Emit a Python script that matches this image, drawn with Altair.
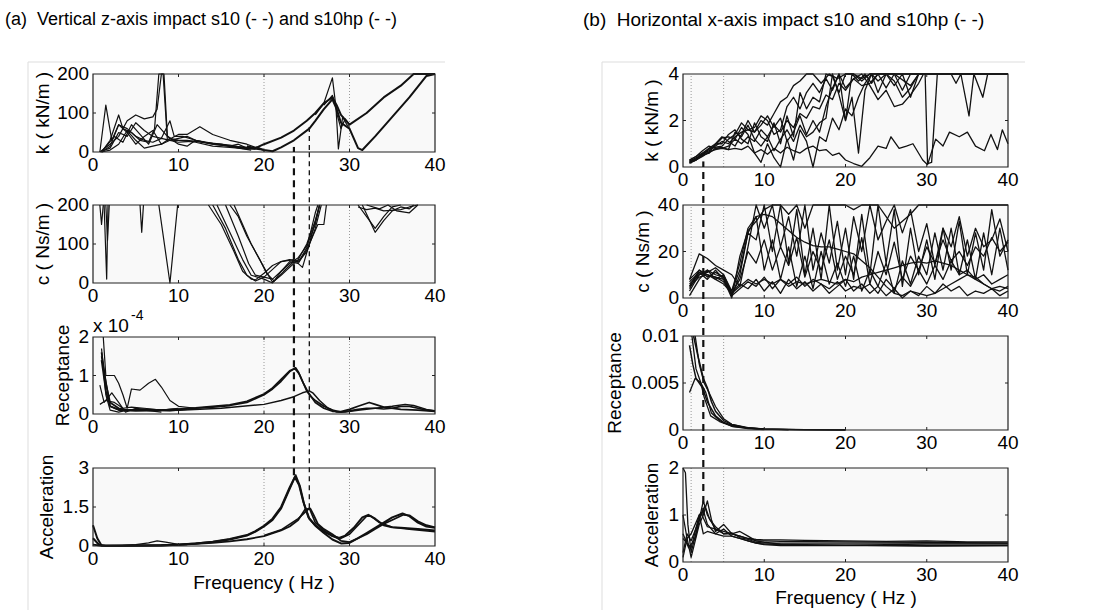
import altair as alt
import pandas as pd

W, H = 1098, 610
FONT = "Liberation Sans"
BG = "#f9f9f9"
INK = "#111111"

FREQ_DOMAIN = [0, 40]
X_TICKS = [0, 10, 20, 30, 40]

# ---------------- (a) vertical z-axis ----------------
# stiffness k (kN/m)
A_K_1 = [(0.8,0),(1.5,120),(2.2,30),(3,70),(4,60),(5,40),(6,30),(7,25),(8,35),(9,30),(10,25),(12,28),(14,20),(16,15),(18,12),(19.5,10)]
A_K_2 = [(0.8,0),(2,20),(3,40),(4,80),(5,95),(6,85),(7,90),(7.5,110),(8,200),(8.3,200),(8.7,40),(9.5,30),(11,30),(13,25),(15,18),(17,12),(19,8)]
A_K_3 = [(1,0),(2,30),(3,95),(3.5,60),(4.5,50),(5.5,30),(6.5,25),(7.2,60),(7.7,200),(8.2,200),(8.7,30),(10,45),(11,45),(12.5,65),(14,45),(16,30),(18,20),(19,12)]
A_K_4 = [(1,0),(2.5,40),(3.5,25),(4.5,70),(5.5,45),(6.5,20),(7.5,70),(8.5,45),(9.3,30),(10,20),(11,15),(12,30),(13,25),(15,20),(17,10),(18.5,5)]
A_K_5 = [(1,2),(2,10),(3,50),(4,40),(5,75),(6,55),(7,40),(8,35),(9,80),(9.5,40),(10.5,40),(12,30),(14,22),(16,18),(18,10),(19,10)]
A_K_6 = [(1,0),(2,5),(3,20),(4,55),(5,30),(6,10),(7,15),(8,20),(9,30),(10,35),(11,40),(12,30),(14,20),(16,15),(17,20),(18,10),(20,5)]
A_K_7 = [(1,0),(2,15),(3,70),(4,50),(5,20),(6,40),(7,55),(8,20),(9,35),(10,30),(12,25),(14,15),(16,12),(18,8),(19,8)]
A_K_S10 = [(18,15),(19,10),(20,20),(22,37),(23.5,55),(25,80),(26,100),(27,125),(28,140),(28.5,120),(29,95),(30,70),(32,100),(34,140),(36,170),(37.5,200),(40,200)]
A_K_S10HP = [(19,12),(20,5),(21,2),(22,12),(23.5,30),(25.3,60),(26,80),(27,110),(28,135),(28.5,110),(29,75),(30,60),(31,10),(31.5,5),(33,40),(35,90),(37,140),(39,195),(40,200)]
A_K_SPIKE = [(26,95),(27,125),(28,190),(28.5,100),(29,60),(29.5,85),(30,70)]
A_K_DIP = [(27,120),(28,145),(28.4,120),(28.7,8),(29.2,90),(29.7,70),(30,65)]

# damping c (Ns/m)
A_C_SP1 = [(0.8,200),(1.0,150),(1.2,200)]
A_C_SP2 = [(1.3,200),(1.6,10),(1.75,200)]
A_C_SP3 = [(1.5,200),(1.7,110),(1.9,200)]
A_C_SP4 = [(5.5,200),(5.7,130),(5.9,200)]
A_C_V = [(7.7,200),(9,0),(9.9,200)]
A_C_U1 = [(13.5,200),(15,150),(16.5,80),(17.5,30),(18.5,10),(19,8),(20,25),(21,45),(22,55),(23,60),(24,55),(25,80),(26,140),(26.7,200)]
A_C_U2 = [(14,200),(15.5,140),(17,60),(18,20),(19,5),(20,15),(21,35),(22,55),(23.5,60),(24.5,40),(25.3,100),(26.5,200)]
A_C_U3 = [(14.5,200),(16,130),(17.5,60),(18.5,20),(20,10),(21,0),(22,30),(23,50),(24,65),(25,95),(26,150),(26.5,200)]
A_C_U4 = [(16,200),(17,170),(18,120),(19,80),(20,40),(20.5,20),(21,2),(22,20),(23,40),(24,60),(25,100),(26,160),(26.5,200)]
A_C_U5 = [(16.5,200),(17.5,150),(18.5,100),(19.5,60),(20.3,25),(21.2,5),(22.3,30),(23.5,55),(24.2,60),(25,90),(26,180),(26.3,200)]
A_C_U6 = [(15.5,200),(17,120),(18.2,50),(19,20),(20,15),(21,10),(22,30),(23,55),(24,50),(25,85),(26.3,150),(27,150),(27.3,200)]
A_C_T1 = [(31,200),(32,170),(33,140),(34,170),(35,195),(36,200)]
A_C_T2 = [(31.5,200),(33,130),(34,160),(35,185),(36,195),(37,190),(37.5,200)]
A_C_T3 = [(32,200),(33.5,190),(34.5,200),(35.5,185),(37,180),(38,200)]
A_C_T4 = [(31,195),(32,188),(33,192),(34,185),(36,188),(37,195),(38,200)]

# receptance (x 1e-4)
A_R_1 = [(1,1.6),(1.5,0.8),(2,0.3),(3,0.15),(4,0.1),(6,0.1),(8,0.1),(10,0.12),(12,0.15),(14,0.18),(16,0.22),(18,0.3),(20,0.5),(21,0.65),(22,0.85),(23,1.1),(23.7,1.2),(24,1.1),(24.5,0.85),(25,0.6),(25.5,0.45),(26,0.35),(27,0.2),(28,0.1),(29,0.05),(30,0.08),(31,0.12),(32,0.15),(33,0.15),(34,0.13),(35,0.15),(36,0.2),(37,0.2),(38,0.15),(39,0.1),(40,0.08)]
A_R_2 = [(1,1.4),(1.5,0.6),(2,0.2),(3,0.12),(4,0.1),(6,0.12),(8,0.1),(10,0.13),(12,0.16),(14,0.2),(16,0.24),(18,0.33),(20,0.52),(21,0.68),(22,0.9),(23,1.12),(23.6,1.18),(24.1,1.05),(24.6,0.8),(25.2,0.55),(26,0.3),(27,0.15),(28,0.07),(29,0.06),(30,0.12),(31,0.2),(32.3,0.3),(33,0.25),(34,0.18),(36,0.12),(38,0.1),(40,0.07)]
A_R_HP = [(1,1.5),(2,0.2),(3,0.1),(5,0.08),(10,0.1),(15,0.15),(20,0.25),(22,0.35),(23.5,0.45),(24.5,0.55),(25.3,0.6),(25.7,0.55),(26.5,0.35),(27.5,0.15),(28.5,0.05),(29.5,0.05),(31,0.1),(33,0.15),(35,0.2),(36.5,0.25),(37.5,0.22),(39,0.12),(40,0.08)]
A_R_4 = [(1.2,2),(1.5,1.0),(2.5,1.0),(3,0.8),(3.5,0.5),(4,0.15),(4.5,0.65),(5.5,0.62),(6.5,0.8),(7.3,0.9),(8,0.7),(9,0.35),(10,0.2),(12,0.15)]
A_R_5 = [(0.8,0.75),(1.3,0.3),(2.2,0.55),(3,0.3),(3.8,0.05),(5,0.15),(7,0.1),(9,0.08),(11,0.12)]
A_R_6 = [(0.8,0.25),(1.5,0.35),(2.5,0.3),(3.5,0.15),(4.5,0.18),(6,0.15),(8,0.1),(10,0.15)]
A_R_7 = [(1,1.7),(1.5,0.5),(2,0.1),(3,0.05),(4,0.1),(6,0.1),(8,0.05)]

# acceleration
A_A_S10_1 = [(0,0.8),(0.5,0.3),(1,0.02),(3,0.01),(5,0.02),(8,0.03),(10,0.05),(12,0.1),(14,0.15),(16,0.25),(18,0.4),(19,0.55),(20,0.75),(21,1.0),(22,1.45),(23,2.2),(23.7,2.72),(24.2,2.3),(24.7,1.6),(25.3,1.05),(26,0.8),(27,0.55),(28,0.38),(28.7,0.3),(29.5,0.4),(30.5,0.7),(31.5,1.1),(32.2,1.2),(33,1.05),(34,0.8),(35,0.72),(36,0.7),(38,0.65),(40,0.6)]
A_A_S10_2 = [(0,0.3),(0.7,0.05),(1.5,0.01),(4,0.02),(8,0.03),(10,0.06),(12,0.1),(14,0.16),(16,0.27),(18,0.42),(19,0.57),(20,0.78),(21,1.05),(22,1.5),(23,2.25),(23.6,2.65),(24.1,2.35),(24.6,1.7),(25.2,1.1),(26,0.78),(27,0.5),(28,0.25),(29,0.1),(30,0.12),(31,0.3),(32,0.5),(33,0.7),(34,0.9),(35,1.1),(36.2,1.25),(37,1.15),(38,0.9),(39,0.75),(40,0.7)]
A_A_HP_1 = [(0,0.05),(1,0.01),(4,0.01),(8,0.02),(10,0.04),(12,0.08),(14,0.12),(16,0.18),(18,0.26),(20,0.38),(22,0.6),(23,0.75),(24,1.0),(24.8,1.4),(25.4,1.45),(25.8,1.2),(26.3,0.85),(27,0.65),(28,0.45),(29,0.2),(30,0.15),(31,0.3),(32,0.45),(33,0.65),(34,0.85),(35,1.0),(36.3,1.2),(37,1.18),(38,0.95),(39,0.8),(40,0.72)]
A_A_HP_2 = [(20,0.4),(22,0.62),(24,1.05),(25.3,1.45),(26,0.9),(27,0.6),(28,0.4),(29,0.3),(30,0.45),(31,0.8),(32,1.15),(32.5,1.15),(33.5,0.9),(35,0.72),(37,0.65),(40,0.55)]
A_A_LOW = [(3,0.01),(5,0.05),(6.5,0.12),(7.5,0.2),(8.5,0.15),(10,0.06),(11,0.05)]

# ---------------- (b) horizontal x-axis ----------------
B_K_1 = [(0.8,0.25),(1.6,0.4),(2.4,0.55),(3.2,0.7),(4,0.9),(4.8,1.1),(5.6,1.0),(6.4,1.3),(7.2,1.5),(8,1.6),(8.8,1.5),(9.6,2.0),(10.4,1.8),(11.2,2.3),(12,2.8),(12.8,3.0),(13.6,3.5),(14.4,3.7),(15.2,4.0),(16,4.0),(17,3.6),(18,4.0),(19,3.8),(20,4.0),(21,4.0),(22,3.8),(23,4.0),(40,4.0)]
B_K_2 = [(0.8,0.2),(1.6,0.35),(2.4,0.5),(3.2,0.8),(4,0.85),(4.8,0.9),(5.6,1.2),(6.4,1.4),(7.2,1.9),(8,1.6),(8.8,1.7),(9.6,2.2),(10.4,2.0),(11.2,1.4),(12,1.6),(12.8,2.6),(13.6,3.0),(14.4,2.5),(15.2,3.2),(16,3.6),(16.8,3.2),(17.6,3.8),(18.4,3.3),(19.2,4.0),(20,3.4),(21,3.8),(22,4.0),(23,3.5),(24,2.9),(25,3.3),(26,2.6),(27,2.7),(28,3.1),(29,3.6),(29.6,4.0),(40,4.0)]
B_K_3 = [(0.8,0.3),(1.6,0.45),(2.4,0.7),(3.2,0.9),(4,0.8),(4.8,0.85),(5.6,0.75),(6.4,1.5),(7.2,1.3),(8,1.8),(8.8,1.2),(9.6,0.9),(10.4,1.3),(11.2,0.7),(12,1.2),(12.8,1.6),(13.6,1.1),(14.4,1.8),(15.2,1.3),(16,1.5),(16.8,1.9),(17.6,2.1),(18.4,4.0),(19.2,3.1),(20,2.0),(20.8,4.0),(21.6,3.7),(22.4,4.0),(23.2,3.6),(24,4.0),(25,4.0),(26,3.5),(27,4.0),(28,3.0),(29,4.0),(40,4.0)]
B_K_4 = [(0.8,0.15),(1.6,0.3),(2.4,0.45),(3.2,0.65),(4,0.75),(4.8,0.8),(5.6,0.75),(6.4,0.8),(7.2,0.75),(8,0.9),(8.8,0.6),(9.6,0.75),(10.4,0.55),(11.2,0.8),(12,0.6),(12.8,0.85),(13.6,0.7),(14.4,0.6),(15.2,0.8),(16,0.9),(16.8,0.7),(17.6,0.75),(18.4,0.5),(19.2,0.6),(20,0.3),(21,0.15),(22,0.03),(23,0.4),(24,0.9),(25,0.8),(25.6,1.3),(26.6,0.8),(27.5,0.9),(28.3,1.0),(29.5,0.3),(30.1,0.1),(31.1,1.2),(32,0.9),(32.8,1.5),(34,1.3),(35,1.5),(36,0.9),(37.1,0.7),(37.9,1.4),(38.7,0.75),(39.3,1.6),(40,1.0)]
B_K_5 = [(0.8,0.2),(1.6,0.3),(2.4,0.55),(3.2,0.75),(4,0.95),(4.8,1.25),(5.6,1.3),(6.4,1.2),(7.2,1.7),(8,1.4),(8.8,0.6),(9.6,0.2),(10.4,1.0),(11.2,0.4),(12,0.0),(12.8,1.2),(13.6,0.3),(14.4,1.6),(15.2,1.1),(16,0.0),(16.8,1.3),(17.6,1.1),(18.4,2.1),(19.2,1.6),(20,2.5),(20.8,2.2),(21.6,3.0),(22.4,3.6),(23.2,4.0),(24,3.7),(25,4.0),(40,4.0)]
B_K_6 = [(0.8,0.25),(1.6,0.35),(2.4,0.6),(3.2,0.6),(4,1.0),(4.8,1.3),(5.6,1.1),(6.4,0.9),(7.2,1.4),(8,2.0),(8.8,1.5),(9.6,1.8),(10.4,2.2),(11.2,1.7),(12,2.1),(12.8,1.1),(13.6,1.5),(14.4,2.2),(15.2,1.4),(16,2.0),(16.8,1.5),(17.6,2.6),(18.4,3.4),(19.2,4.0),(20,2.0),(20.8,3.0),(21.6,0.6),(22.4,3.3),(23.2,4.0),(24,3.2),(25,4.0),(26,4.0),(27,3.3),(28,4.0),(40,4.0)]
B_K_7 = [(0.8,0.3),(1.6,0.45),(2.4,0.6),(3.2,0.8),(4,1.0),(4.8,1.0),(5.6,1.4),(6.4,1.6),(7.2,1.2),(8,1.0),(8.8,1.9),(9.6,1.3),(10.4,1.1),(11.2,1.9),(12,1.0),(12.8,2.2),(13.6,1.3),(14.4,3.2),(15.2,2.5),(16,3.0),(16.8,2.8),(17.6,4.0),(18.4,3.9),(19.2,3.2),(20,4.0),(21,4.0),(22,3.7),(23,4.0),(24,4.0),(25,3.4),(26,4.0),(28,3.5),(29,4.0),(33,4.0),(33.6,3.6),(34.2,4.0),(35.2,2.2),(35.8,4.0),(36.9,3.0),(37.5,4.0),(40,4.0)]
B_K_8 = [(0.8,0.2),(1.6,0.3),(2.4,0.5),(3.2,0.6),(4,0.8),(4.8,0.8),(5.6,0.9),(6.4,1.2),(7.2,1.0),(8,1.3),(8.8,1.1),(9.6,1.6),(10.4,1.3),(11.2,1.8),(12,1.5),(12.8,2.0),(13.6,1.7),(14.4,2.3),(15.2,2.1),(16,2.6),(16.8,2.5),(17.6,3.1),(18.4,2.9),(19.2,3.6),(20,3.3),(21,3.8),(22,3.5),(23,3.6),(24,4.0),(25,4.0),(26,3.7),(27,3.0),(28,3.4),(29,4.0),(29.8,4.0),(30.1,0.15),(30.6,0.2),(31.3,4.0),(40,4.0)]

B_C_1 = [(0.8,5),(2,9),(3,10),(4,9),(5,8),(6,3),(7,15),(8,30),(9,35),(10,36),(11,35),(12,32),(13,29),(14,26),(15,24),(16,22.5),(17,22),(18,22),(19,21),(20,20),(21,19),(22,16),(23,13),(24,9),(25,5),(26,2),(27,1),(28,3),(29,2),(30,1),(31,2),(32,4),(33,6),(34,8),(35,10),(36,9),(37,6),(38,4),(39,3),(40,5)]
B_C_2 = [(0.8,8),(2,12),(3,10),(4,8),(5,6),(6,2),(7,5),(8,8),(9,6),(10,8),(11,6),(12,8),(13,5),(14,7),(15,6),(16,7),(17,8),(18,7),(19,6),(20,8),(21,7),(22,9),(23,10),(24,11),(25,12),(26,13),(27,14),(28,15),(29,15.5),(30,15),(31,16),(32,15),(33,14),(34,12),(35,10),(36,8),(37,6),(38,4),(39,5),(40,4)]
B_C_3 = [(0.8,5),(2,12),(3,9),(4,11),(5,9),(6,1),(7,10),(8,28),(9,25),(10,40),(11,20),(12,40),(13,15),(14,38),(15,10),(16,30),(17,8),(18,40),(19,12),(20,30),(21,8),(22,36),(23,10),(24,40),(25,15),(26,38),(27,5),(28,30),(29,10),(30,25),(31,8),(32,30),(33,12),(34,33),(35,10),(36,28),(37,12),(38,38),(39,18),(40,25)]
B_C_4 = [(0.8,8),(2,19),(3,17),(4,14),(5,12),(6,10),(7,5),(8,22),(9,40),(10,30),(11,40),(12,22),(13,35),(14,18),(15,40),(16,12),(17,28),(18,15),(19,33),(20,10),(21,35),(22,20),(23,40),(24,25),(25,33),(26,40),(27,28),(28,38),(29,20),(30,32),(31,14),(32,30),(33,22),(34,35),(35,18),(36,30),(37,22),(38,25),(39,34),(40,20)]
B_C_5 = [(0.8,3),(2,10),(3,11),(4,13),(5,10),(6,3),(7,12),(8,28),(9,35),(10,12),(11,25),(12,8),(13,22),(14,5),(15,18),(16,4),(17,20),(18,6),(19,15),(20,5),(21,18),(22,3),(23,12),(24,5),(25,15),(26,2),(27,16),(28,6),(29,18),(30,10),(31,28),(32,12),(33,30),(34,10),(35,25),(36,8),(37,28),(38,10),(39,30),(40,12)]
B_C_6 = [(0.8,1),(2,8),(3,12),(4,8),(5,10),(6,2),(7,6),(8,4),(9,8),(10,3),(11,7),(12,2),(13,8),(14,4),(15,7),(16,3),(17,6),(18,2),(19,5),(20,8),(21,3),(22,6),(23,2),(24,5),(25,1),(26,4),(27,0),(28,3),(29,1),(30,5),(31,2),(32,6),(33,3),(34,5),(35,1),(36,3),(37,2),(38,4),(39,1),(40,3)]
B_C_7 = [(0.8,6),(2,10),(3,12),(4,10),(5,9),(6,1),(7,4),(8,7),(9,5),(10,9),(11,4),(12,8),(13,6),(14,9),(15,5),(16,8),(17,6),(18,4),(19,7),(20,3),(21,5),(22,4),(23,6),(24,2),(25,8),(26,4),(27,9),(28,5),(29,12),(30,6),(31,14),(32,8),(33,16),(34,10),(35,12),(36,8),(37,10),(38,6),(39,8),(40,10)]
B_C_8 = [(0.8,4),(2,11),(3,8),(4,12),(5,8),(6,0),(7,18),(8,29),(9,33),(10,38),(11,40),(12,40),(13,36),(14,40),(15,30),(16,40),(20,40),(21,38),(22,40),(24,40),(25,35),(26,30),(27,33),(28,36),(29,40),(40,40)]
B_C_9 = [(0.8,7),(2,11),(3,10),(4,9),(5,7),(6,2),(7,8),(8,20),(9,15),(10,25),(11,12),(12,22),(13,14),(14,26),(15,9),(16,20),(17,12),(18,25),(19,8),(20,18),(21,10),(22,26),(23,6),(24,20),(25,10),(26,24),(27,8),(28,18),(29,12),(30,22),(31,15),(32,25),(33,16),(34,20),(35,14),(36,22),(37,18),(38,26),(39,20),(40,24)]

B_R_1 = [(0.8,0.009),(1.2,0.007),(1.6,0.0055),(2.4,0.0045),(3,0.003),(4,0.0015),(5,0.0008),(6,0.0005),(8,0.0002),(10,0.0001),(15,0.00002),(20,0)]
B_R_2 = [(0.8,0.004),(1.5,0.0055),(2.2,0.005),(2.8,0.004),(3.5,0.0018),(4.5,0.001),(6,0.0004),(8,0.0002),(10,0.0001),(14,0.00003),(20,0)]
B_R_3 = [(1.3,0.01),(1.8,0.008),(2.5,0.0055),(3,0.0045),(3.5,0.003),(4,0.002),(5,0.001),(6,0.0006),(8,0.0002),(10,0.0001),(13,0.00003)]
B_R_4 = [(1.5,0.01),(2,0.007),(2.6,0.005),(3.2,0.004),(4,0.0025),(5,0.0012),(6,0.0006),(8,0.00025),(10,0.0001)]
B_R_5 = [(1.1,0.01),(1.6,0.0065),(2.2,0.005),(2.6,0.0035),(3.4,0.0015),(4.5,0.0009),(6,0.0004),(8,0.00015),(10,0.00005)]

B_A_1 = [(0,2),(0.3,1.9),(0.6,0.8),(1,0.2),(2,0.9),(2.5,1.3),(3,1.0),(4,0.7),(5,0.65),(6,0.6),(7,0.55),(8,0.5),(9,0.48),(10,0.47),(12,0.47),(15,0.46),(20,0.45),(25,0.44),(30,0.45),(35,0.43),(40,0.43)]
B_A_2 = [(0,1.0),(0.5,0.5),(1,0.1),(2,0.8),(2.5,1.0),(3,1.3),(3.5,0.9),(4,0.65),(5,0.8),(6,0.6),(7,0.65),(8,0.55),(9,0.45),(10,0.42),(12,0.38),(15,0.37),(20,0.36),(25,0.37),(30,0.38),(40,0.38)]
B_A_3 = [(0,0.1),(0.5,0.5),(1,0.6),(2,1.0),(2.5,0.6),(3,0.65),(4,0.6),(5,0.55),(6,0.55),(7,0.5),(8,0.45),(9,0.4),(10,0.37),(12,0.35),(20,0.35),(30,0.35),(40,0.35)]
B_A_4 = [(0,0.5),(1,0.3),(2,1.0),(2.5,1.1),(3,0.8),(4,0.6),(5,0.7),(6,0.55),(7,0.5),(8,0.45),(9,0.4),(10,0.38),(15,0.36),(20,0.36),(30,0.34),(40,0.35)]
B_A_5 = [(0,0.2),(0.5,0.6),(1,0.45),(2,0.9),(2.7,1.2),(3.3,0.9),(4,0.75),(5,0.6),(6,0.6),(7,0.55),(8,0.5),(9,0.45),(10,0.45),(12,0.44),(20,0.43),(30,0.42),(40,0.4)]
B_A_6 = [(0,0.6),(0.7,0.3),(1.5,0.5),(2.2,1.05),(3,0.75),(4,0.7),(5,0.6),(6,0.62),(7,0.52),(8,0.48),(9,0.42),(10,0.4),(15,0.4),(25,0.4),(40,0.4)]

# ---------------- layout ----------------
LEFT_X = (93, 435)
RIGHT_X = (683, 1008)
LEFT_Y = [(74, 152), (205, 283), (337, 414), (468, 546)]
RIGHT_Y = [(74, 167), (205, 298), (336, 430), (468, 562)]
THIN, THICK = 1.2, 2.0
TICK_PX = 3
LABEL_SIZE = 19
TITLE_SIZE = 19


def make_df(series):
    rows = []
    for i, (pts, w) in enumerate(series):
        for f, v in pts:
            rows.append({"s": i, "f": f, "v": v, "w": w})
    return pd.DataFrame(rows)


def fmt(v):
    return "%g" % v


def panel(xr, yr, ydom, yticks, series, grid_x):
    x0, x1 = xr
    y0, y1 = yr
    xs = alt.Scale(domain=FREQ_DOMAIN, range=[x0, x1], nice=False, zero=False)
    ys = alt.Scale(domain=ydom, range=[y1, y0], nice=False, zero=False, clamp=True)
    ymin, ymax = ydom
    one = pd.DataFrame({"a": [0]})
    bg = alt.Chart(one).mark_rect(fill=BG).encode(
        x=alt.XDatum(FREQ_DOMAIN[0], type="quantitative", scale=xs, axis=None),
        x2=alt.X2Datum(FREQ_DOMAIN[1]),
        y=alt.YDatum(ymin, type="quantitative", scale=ys, axis=None),
        y2=alt.Y2Datum(ymax),
    )
    grid = alt.Chart(pd.DataFrame({"g": grid_x})).mark_rule(
        color="#9a9a9a", strokeWidth=1, strokeDash=[1, 2]).encode(
        x=alt.X("g:Q", scale=xs, axis=None),
        y=alt.YDatum(ymin, type="quantitative", scale=ys, axis=None),
        y2=alt.Y2Datum(ymax),
    )
    lines = alt.Chart(make_df(series)).mark_line(color=INK, strokeJoin="round").encode(
        x=alt.X("f:Q", scale=xs, axis=None),
        y=alt.Y("v:Q", scale=ys, axis=None),
        detail="s:N",
        strokeWidth=alt.StrokeWidth("w:Q", scale=None),
        order=alt.Order("f:Q"),
    )
    # inward MATLAB-style ticks
    tx = TICK_PX / (x1 - x0) * (FREQ_DOMAIN[1] - FREQ_DOMAIN[0])
    ty = TICK_PX / (y1 - y0) * (ymax - ymin)
    trows = []
    for t in X_TICKS[1:-1]:
        trows.append({"x": t, "x2": t, "y": ymin, "y2": ymin + ty})
        trows.append({"x": t, "x2": t, "y": ymax, "y2": ymax - ty})
    for t in yticks[1:-1]:
        trows.append({"x": FREQ_DOMAIN[0], "x2": FREQ_DOMAIN[0] + tx, "y": t, "y2": t})
        trows.append({"x": FREQ_DOMAIN[1], "x2": FREQ_DOMAIN[1] - tx, "y": t, "y2": t})
    ticks = alt.Chart(pd.DataFrame(trows)).mark_rule(color="#222", strokeWidth=1).encode(
        x=alt.X("x:Q", scale=xs, axis=None), x2="x2:Q",
        y=alt.Y("y:Q", scale=ys, axis=None), y2="y2:Q",
    )
    frame = alt.Chart(one).mark_rect(
        fillOpacity=0, stroke="#222", strokeWidth=1.2).encode(
        x=alt.XDatum(FREQ_DOMAIN[0], type="quantitative", scale=xs, axis=None),
        x2=alt.X2Datum(FREQ_DOMAIN[1]),
        y=alt.YDatum(ymin, type="quantitative", scale=ys, axis=None),
        y2=alt.Y2Datum(ymax),
    )
    xlab = alt.Chart(pd.DataFrame({"t": X_TICKS, "lab": [fmt(t) for t in X_TICKS]})).mark_text(
        font=FONT, fontSize=LABEL_SIZE, color="#000", align="center", baseline="middle", dy=13).encode(
        x=alt.X("t:Q", scale=xs, axis=None),
        y=alt.YDatum(ymin, type="quantitative", scale=ys, axis=None),
        text="lab:N",
    )
    ylab = alt.Chart(pd.DataFrame({"t": yticks, "lab": [fmt(t) for t in yticks]})).mark_text(
        font=FONT, fontSize=LABEL_SIZE, color="#000", align="right", baseline="middle", dx=-4).encode(
        x=alt.XDatum(FREQ_DOMAIN[0], type="quantitative", scale=xs, axis=None),
        y=alt.Y("t:Q", scale=ys, axis=None),
        text="lab:N",
    )
    return alt.layer(bg, grid, lines, ticks, frame, xlab, ylab), xs, ys


def marker(xs, ys, f, v, y_end_px, width, dash):
    df = pd.DataFrame({"f": [f], "v": [v]})
    return alt.Chart(df).mark_rule(color=INK, strokeWidth=width, strokeDash=dash).encode(
        x=alt.X("f:Q", scale=xs, axis=None),
        y=alt.Y("v:Q", scale=ys, axis=None),
        y2=alt.value(y_end_px),
    )


A_GRID = [20, 30]
B_GRID = [1, 5]

pa_k, xs_ak, ys_ak = panel(LEFT_X, LEFT_Y[0], [0, 200], [0, 100, 200],
    [(A_K_1, THIN), (A_K_2, THIN), (A_K_3, THIN), (A_K_4, THIN), (A_K_5, THIN),
     (A_K_6, THIN), (A_K_7, THIN), (A_K_S10, THICK), (A_K_S10HP, THICK),
     (A_K_SPIKE, THIN), (A_K_DIP, THIN)], A_GRID)
pa_c, _, _ = panel(LEFT_X, LEFT_Y[1], [0, 200], [0, 100, 200],
    [(A_C_SP1, THIN), (A_C_SP2, THIN), (A_C_SP3, THIN), (A_C_SP4, THIN), (A_C_V, THIN),
     (A_C_U1, THIN), (A_C_U2, THIN), (A_C_U3, THIN), (A_C_U4, THIN), (A_C_U5, THIN),
     (A_C_U6, THIN), (A_C_T1, THIN), (A_C_T2, THIN), (A_C_T3, THIN), (A_C_T4, THIN)], A_GRID)
pa_r, _, _ = panel(LEFT_X, LEFT_Y[2], [0, 2], [0, 1, 2],
    [(A_R_1, 1.7), (A_R_2, 1.7), (A_R_HP, 1.5), (A_R_4, THIN), (A_R_5, THIN),
     (A_R_6, THIN), (A_R_7, THIN)], A_GRID)
pa_a, xs_aa, ys_aa = panel(LEFT_X, LEFT_Y[3], [0, 3], [0, 1.5, 3],
    [(A_A_S10_1, THICK), (A_A_S10_2, THICK), (A_A_HP_1, 1.8), (A_A_HP_2, 1.6), (A_A_LOW, THIN)], A_GRID)

pb_k, xs_bk, ys_bk = panel(RIGHT_X, RIGHT_Y[0], [0, 4], [0, 2, 4],
    [(B_K_1, 1.3), (B_K_2, 1.3), (B_K_3, 1.3), (B_K_4, 1.3), (B_K_5, 1.3),
     (B_K_6, 1.3), (B_K_7, 1.3), (B_K_8, 1.3)], B_GRID)
pb_c, _, _ = panel(RIGHT_X, RIGHT_Y[1], [0, 40], [0, 20, 40],
    [(B_C_1, 1.3), (B_C_2, 1.3), (B_C_3, 1.3), (B_C_4, 1.3), (B_C_5, 1.3),
     (B_C_6, 1.3), (B_C_7, 1.3), (B_C_8, 1.3), (B_C_9, 1.3)], B_GRID)
pb_r, _, _ = panel(RIGHT_X, RIGHT_Y[2], [0, 0.01], [0, 0.005, 0.01],
    [(B_R_1, 1.5), (B_R_2, 1.3), (B_R_3, 1.5), (B_R_4, 1.3), (B_R_5, 1.3)], B_GRID)
pb_a, xs_ba, ys_ba = panel(RIGHT_X, RIGHT_Y[3], [0, 2], [0, 1, 2],
    [(B_A_1, 1.3), (B_A_2, 1.3), (B_A_3, 1.3), (B_A_4, 1.3), (B_A_5, 1.3), (B_A_6, 1.3)], B_GRID)

# dashed resonance markers (start at a data point, run to the bottom edge of the k panel)
markers = [
    marker(xs_ak, ys_ak, 23.5, 13, LEFT_Y[0][1], 2.2, [7, 5]),
    marker(xs_aa, ys_aa, 23.5, 2.72, LEFT_Y[0][1], 2.2, [7, 5]),
    marker(xs_ak, ys_ak, 25.3, 64, LEFT_Y[0][1], 1.3, [5, 4]),
    marker(xs_aa, ys_aa, 25.3, 1.45, LEFT_Y[0][1], 1.3, [5, 4]),
    marker(xs_bk, ys_bk, 2.5, 0.24, RIGHT_Y[0][1], 2.2, [7, 5]),
    marker(xs_ba, ys_ba, 2.5, 1.0, RIGHT_Y[0][1], 2.2, [7, 5]),
]

ONE = pd.DataFrame({"a": [0]})


def label(text, x, y, size=TITLE_SIZE, align="left", weight="normal", angle=0):
    kw = dict(text=text, font=FONT, fontSize=size, align=align, baseline="middle",
              fontWeight=weight, color="#000")
    if angle:
        kw["angle"] = angle
    return alt.Chart(ONE).mark_text(**kw).encode(x=alt.value(x), y=alt.value(y))


def frame_rule(x, x2, y, y2):
    return alt.Chart(ONE).mark_rule(color="#dddddd", strokeWidth=1).encode(
        x=alt.value(x), x2=alt.value(x2), y=alt.value(y), y2=alt.value(y2))


def ymid(r):
    return (r[0] + r[1]) / 2


decor = [
    frame_rule(28, 445, 62, 62), frame_rule(28, 28, 62, 610),
    frame_rule(602, 1025, 62, 62), frame_rule(602, 602, 62, 610),
    label("(a)\u00a0 Vertical z-axis impact s10 (- -) and s10hp (- -)", 5, 20, size=18),
    label("(b)\u00a0 Horizontal x-axis impact s10 and s10hp (- -)", 583, 20, size=19),
    label("x 10", 93, 326),
    label("-4", 131, 316, size=14),
    # y-axis titles
    label("k ( kN/m )", 43, ymid(LEFT_Y[0]), align="center", angle=270),
    label("c ( Ns/m )", 43, ymid(LEFT_Y[1]), align="center", angle=270),
    label("Receptance", 63, ymid(LEFT_Y[2]), align="center", angle=270),
    label("Acceleration", 47, ymid(LEFT_Y[3]), align="center", angle=270),
    label("k ( kN/m )", 652, ymid(RIGHT_Y[0]), align="center", angle=270),
    label("c ( Ns/m )", 643, ymid(RIGHT_Y[1]), align="center", angle=270),
    label("Receptance", 615, ymid(RIGHT_Y[2]), align="center", angle=270),
    label("Acceleration", 652, ymid(RIGHT_Y[3]), align="center", angle=270),
    # x-axis titles
    label("Frequency ( Hz )", 264, 583, align="center"),
    label("Frequency ( Hz )", 846, 598, align="center"),
]

chart = alt.layer(
    *decor, pa_k, pa_c, pa_r, pa_a, pb_k, pb_c, pb_r, pb_a, *markers
).resolve_scale(x="independent", y="independent").properties(
    width=W, height=H, autosize="none", padding=0, background="white"
).configure_view(strokeWidth=0)

chart.save("out.html", embed_options={"renderer": "svg", "actions": False})
